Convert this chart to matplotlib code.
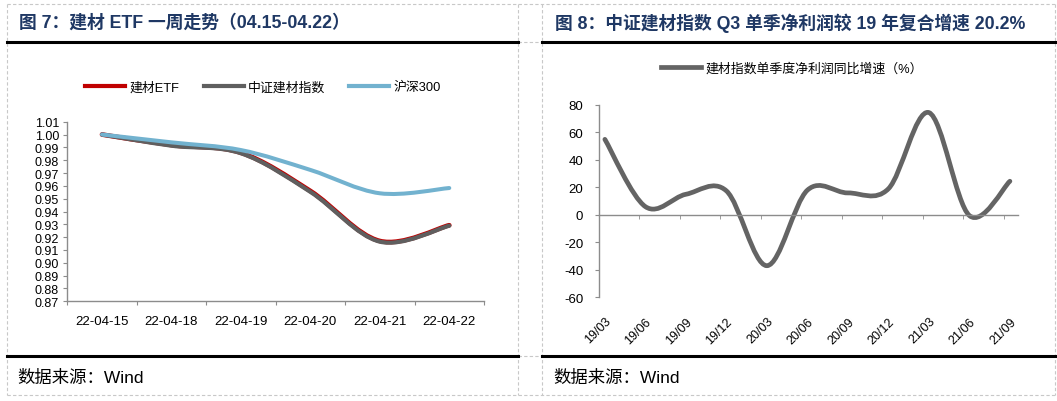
import numpy as np
import matplotlib
matplotlib.use("Agg")
import matplotlib.pyplot as plt
from matplotlib.path import Path
from matplotlib.patches import PathPatch
from matplotlib.lines import Line2D

plt.rcParams['font.family'] = ['Liberation Sans', 'Noto Sans CJK SC', 'DejaVu Sans']
plt.rcParams['axes.unicode_minus'] = False

# ---- data: left chart (weekly trend, normalised) ----
week_days = ["22-04-15", "22-04-18", "22-04-19", "22-04-20", "22-04-21", "22-04-22"]
etf_vals = [1.000, 0.9918, 0.9858, 0.9560, 0.9170, 0.9293]
csi_bm_vals = [1.000, 0.9913, 0.9854, 0.9553, 0.9165, 0.9289]
hs300_vals = [1.000, 0.9939, 0.9879, 0.9724, 0.9542, 0.9583]

# ---- data: right chart (quarterly net profit growth, %) ----
quarters = ["19/03", "19/06", "19/09", "19/12", "20/03", "20/06",
            "20/09", "20/12", "21/03", "21/06", "21/09"]
profit_growth = [55.0, 6.0, 15.0, 17.5, -37.0, 18.0, 16.0, 19.0, 74.5, -0.5, 24.5]

RED = "#C00000"
GRAY = "#5F5F5F"
BLUE = "#72B2CF"
AXIS = "#8C8C8C"
NAVY = "#1F3864"
W, H = 1057, 402


def smooth_path(xs, ys):
    """Excel-like smoothed line: Catmull-Rom turned into cubic Beziers."""
    pts = np.column_stack([xs, ys]).astype(float)
    n = len(pts)
    verts = [pts[0]]
    codes = [Path.MOVETO]
    for i in range(n - 1):
        p0 = pts[max(i - 1, 0)]
        p1 = pts[i]
        p2 = pts[i + 1]
        p3 = pts[min(i + 2, n - 1)]
        verts += [p1 + (p2 - p0) / 6, p2 - (p3 - p1) / 6, p2]
        codes += [Path.CURVE4] * 3
    return Path(verts, codes)


def add_smooth(ax, ys, color, lw):
    xs = np.arange(len(ys))
    patch = PathPatch(smooth_path(xs, ys), fill=False, edgecolor=color,
                      lw=lw, capstyle="round", joinstyle="round")
    ax.add_patch(patch)


def fx(px):
    return px / W


def fy(py):
    return 1 - py / H


fig = plt.figure(figsize=(W / 100, H / 100), dpi=100)

# ---- table-like frame (dashed cell borders + heavy rules) ----
dash = dict(color="#C8C8C8", lw=0.8, ls=(0, (3, 2)), transform=fig.transFigure)
for y in (5, 43, 357, 396):
    fig.add_artist(Line2D([fx(7), fx(1055)], [fy(y), fy(y)], **dash))
for x in (7, 518, 542, 1055):
    fig.add_artist(Line2D([fx(x), fx(x)], [fy(5), fy(396)], **dash))
for x0, x1 in ((7, 518), (542, 1055)):
    for y in (43, 357):
        fig.add_artist(Line2D([fx(x0), fx(x1)], [fy(y), fy(y)], color="black",
                              lw=2.2, transform=fig.transFigure))

fig.text(fx(19), fy(23), "图 7：建材 ETF 一周走势（04.15-04.22）", fontsize=12.8,
         fontweight="bold", color=NAVY, va="center")
fig.text(fx(555), fy(23), "图 8：中证建材指数 Q3 单季净利润较 19 年复合增速 20.2%",
         fontsize=12.8, fontweight="bold", color=NAVY, va="center")
fig.text(fx(17), fy(378), "数据来源：Wind", fontsize=12.5, va="center")
fig.text(fx(553), fy(378), "数据来源：Wind", fontsize=12.5, va="center")

# ---- left chart ----
ax1 = fig.add_axes([fx(67.3), fy(302.3), fx(484 - 67.3), (302.3 - 122.7) / H])
add_smooth(ax1, etf_vals, RED, 3.4)
add_smooth(ax1, csi_bm_vals, GRAY, 3.0)
add_smooth(ax1, hs300_vals, BLUE, 2.9)
ax1.set_xlim(-0.5, len(week_days) - 0.5)
ax1.set_ylim(0.87, 1.01)
ax1.set_yticks(np.round(np.arange(0.87, 1.0101, 0.01), 2))
ax1.yaxis.set_major_formatter(matplotlib.ticker.FormatStrFormatter("%.2f"))
ax1.tick_params(axis="x", which="major", length=3, color=AXIS, direction="out")
ax1.tick_params(axis="x", which="minor", length=0, pad=10, labelsize=9.5)
ax1.tick_params(axis="y", length=3, color=AXIS, pad=3, labelsize=9)
ax1.set_xticks(np.arange(-0.5, len(week_days)), minor=False)
ax1.set_xticklabels([])
ax1.set_xticks(range(len(week_days)), minor=True)
ax1.set_xticklabels(week_days, minor=True)
for s in ("top", "right"):
    ax1.spines[s].set_visible(False)
for s in ("left", "bottom"):
    ax1.spines[s].set_color(AXIS)
    ax1.spines[s].set_linewidth(1.0)

handles1 = [Line2D([], [], color=RED, lw=3),
            Line2D([], [], color=GRAY, lw=3),
            Line2D([], [], color=BLUE, lw=3)]
fig.legend(handles1, ["建材ETF", "中证建材指数", "沪深300"], loc="center",
           bbox_to_anchor=(fx(263), fy(88)), ncol=3, frameon=False, fontsize=9.3,
           handlelength=3.1, handletextpad=0.3, columnspacing=1.9)

# ---- right chart ----
ax2 = fig.add_axes([fx(598.6), fy(298.3), fx(1018 - 598.6), (298.3 - 106) / H])
add_smooth(ax2, profit_growth, "#646464", 3.4)
ax2.set_xlim(-0.155, len(quarters) - 1 + 0.2)
ax2.set_ylim(-60, 80)
ax2.set_yticks(range(-60, 81, 20))
ax2.spines["bottom"].set_position(("data", 0))
ax2.tick_params(axis="x", which="major", length=0, pad=72, labelsize=9)
ax2.tick_params(axis="x", which="minor", length=3, color=AXIS, direction="out")
ax2.tick_params(axis="y", length=3, color=AXIS, pad=8, labelsize=9.5)
ax2.set_xticks(range(len(quarters)))
ax2.set_xticklabels(quarters)
ax2.set_xticks([i - 0.155 for i in range(1, len(quarters))], minor=True)
plt.setp(ax2.get_xticklabels(), rotation=45, ha="right", va="top",
         rotation_mode="anchor")
for s in ("top", "right"):
    ax2.spines[s].set_visible(False)
for s in ("left", "bottom"):
    ax2.spines[s].set_color(AXIS)
    ax2.spines[s].set_linewidth(1.0)

fig.legend([Line2D([], [], color="#646464", lw=3.4)], ["建材指数单季度净利润同比增速（%）"],
           loc="center", bbox_to_anchor=(fx(792), fy(69)), frameon=False,
           fontsize=9.3, handlelength=3.1, handletextpad=0.3)

fig.savefig("out.png", dpi=100)
